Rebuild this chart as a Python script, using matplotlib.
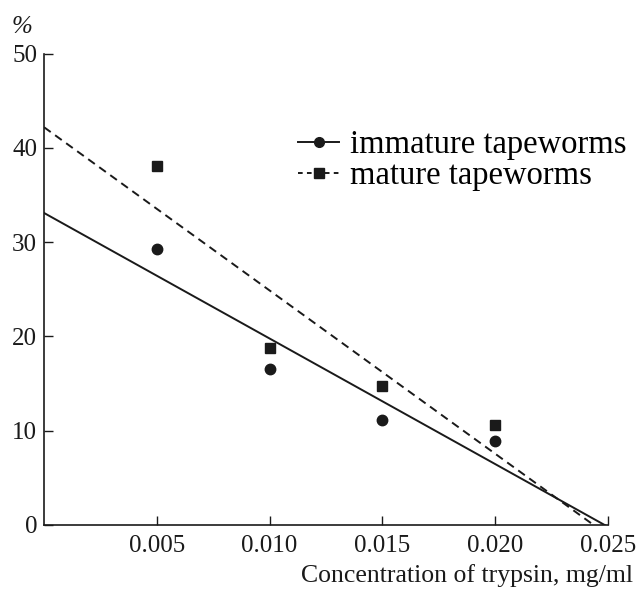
import numpy as np
import matplotlib

matplotlib.use("Agg")
import matplotlib.pyplot as plt

# trypsin concentration, mg/ml
conc = [0.005, 0.010, 0.015, 0.020]
immature = [29.3, 16.5, 11.1, 8.9]
mature = [38.1, 18.8, 14.7, 10.6]

x_ticks = [0.005, 0.010, 0.015, 0.020, 0.025]
x_ticklabels = ["0.005", "0.010", "0.015", "0.020", "0.025"]
y_ticks = [0, 10, 20, 30, 40, 50]

plt.rcParams["font.family"] = ["Liberation Serif", "DejaVu Serif"]
INK = "#1a1a1a"

fig = plt.figure(figsize=(6.39, 5.91), dpi=100)
ax = fig.add_axes((0.069, 0.112, 0.882, 0.797))

# regression lines through each series
xfit = np.array([0.0, 0.025])
for values, style, marker, msize in (
    (immature, "-", "o", 7.5),
    (mature, "--", "s", 7.2),
):
    slope, intercept = np.polyfit(conc, values, 1)
    line, = ax.plot(xfit, slope * xfit + intercept, color=INK, linewidth=1.4,
                    linestyle=style)
    if style == "--":
        line.set_dashes((4.2, 2.8))
    ax.plot(conc, values, linestyle="none", marker=marker, markersize=msize,
            color=INK)

ax.set_xlim(0, 0.025)
ax.set_ylim(0, 50)
ax.set_xticks(x_ticks)
ax.set_xticklabels(x_ticklabels)
ax.set_yticks(y_ticks)
ax.tick_params(direction="in", length=6.5, width=1, labelsize=18, colors=INK)
ax.tick_params(axis="x", pad=7)
ax.tick_params(axis="y", pad=5)
for side in ("top", "right"):
    ax.spines[side].set_visible(False)
for side in ("left", "bottom"):
    ax.spines[side].set_linewidth(1.2)
    ax.spines[side].set_color(INK)

# legend handles show the marker in the middle of the line
handles = [
    plt.Line2D([], [], color=INK, linewidth=1.4, marker="o", markersize=7),
    plt.Line2D([], [], color=INK, linewidth=1.4, linestyle=(0, (2.4, 2.2)),
               marker="s", markersize=6.5),
]
ax.legend(handles, ["immature tapeworms", "mature tapeworms"], loc="upper left",
          bbox_to_anchor=(0.422, 0.874), frameon=False, fontsize=23.5,
          handlelength=1.25, handletextpad=0.35, labelspacing=0.02, borderpad=0)

fig.text(0.035, 0.955, "%", fontsize=18, style="italic", ha="center", va="center",
         color=INK)
fig.text(0.99, 0.006, "Concentration of trypsin, mg/ml", fontsize=18.5, ha="right",
         va="bottom", color=INK)

fig.savefig("out.png", dpi=100)
